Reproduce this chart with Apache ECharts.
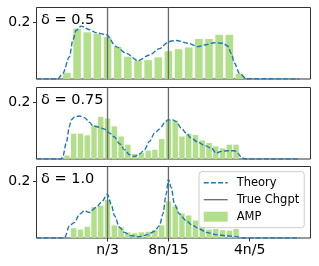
<!DOCTYPE html>
<html><head><meta charset="utf-8">
<script src="https://cdn.jsdelivr.net/npm/echarts@6/dist/echarts.min.js"></script>
<style>html,body{margin:0;padding:0;background:#fff}#c{width:319px;height:266px}</style>
</head><body><div id="c"></div><script>
// ---- data ----
const deltaLabels = ['δ = 0.5', 'δ = 0.75', 'δ = 1.0'];
const xTickPos = [1/3, 8/15, 4/5];
const xTickLabels = ['n/3', '8n/15', '4n/5'];
const yTickPos = [0.2];
const chgpts = [1/3, 8/15];

// AMP histograms: bin width (fraction of n), first bin index, heights
const amp1BinsPerN = 30, amp1Start = 6;
const amp1 = [0.022, 0.179, 0.166, 0.160, 0.149, 0.114, 0.079, 0.065, 0.067, 0.077, 0.099, 0.106, 0.112, 0.142, 0.142, 0.157, 0.157, 0.019];
const amp2BinsPerN = 45, amp2Start = 9;
const amp2 = [0.012, 0.090, 0.090, 0.084, 0.119, 0.150, 0.144, 0.116, 0.080, 0.051, 0.018, 0.021, 0.030, 0.033, 0.071, 0.139, 0.136, 0.080, 0.090, 0.085, 0.066, 0.057, 0.045, 0.038, 0.051, 0.051];
const amp3BinsPerN = 45, amp3Start = 10;
const amp3 = [0.035, 0.030, 0.040, 0.110, 0.115, 0.135, 0.045, 0.038, 0.020, 0.017, 0.020, 0.022, 0.028, 0.045, 0.130, 0.112, 0.087, 0.080, 0.062, 0.045, 0.030, 0.032, 0.028, 0.026, 0.032];

// Theory curves [t/n, density]
const theory1 = [[0.1,0],[0.17,0],[0.1863,0.020],[0.2083,0.079],[0.2193,0.138],[0.2303,0.173],[0.2467,0.188],[0.274,0.175],[0.296,0.164],[0.329,0.158],[0.3617,0.115],[0.3947,0.091],[0.4327,0.065],[0.4713,0.085],[0.504,0.108],[0.5313,0.130],[0.5423,0.135],[0.559,0.137],[0.597,0.127],[0.63,0.115],[0.6517,0.121],[0.6847,0.129],[0.712,0.127],[0.7283,0.117],[0.7397,0.091],[0.7503,0.056],[0.7667,0.020],[0.7887,0.001],[0.963,0]];
const theory2 = [[0.1,0],[0.181,0],[0.1865,0.009],[0.1976,0.057],[0.2084,0.116],[0.2139,0.139],[0.2248,0.149],[0.2413,0.153],[0.2577,0.147],[0.2741,0.130],[0.2851,0.118],[0.307,0.113],[0.3234,0.106],[0.3398,0.092],[0.3562,0.078],[0.3727,0.054],[0.3891,0.033],[0.4055,0.015],[0.422,0.009],[0.4384,0.018],[0.4548,0.033],[0.4712,0.0625],[0.4876,0.092],[0.5041,0.106],[0.5205,0.128],[0.5314,0.139],[0.5478,0.139],[0.5589,0.133],[0.5753,0.110],[0.5918,0.092],[0.6082,0.074],[0.630,0.060],[0.652,0.048],[0.674,0.039],[0.690,0.021],[0.7068,0.027],[0.7285,0.0295],[0.750,0.0295],[0.761,0.021],[0.7745,0.0035],[0.789,0],[0.964,0]];
const theory3 = [[0.1,0],[0.192,0],[0.2084,0.044],[0.2248,0.055],[0.2413,0.085],[0.2577,0.097],[0.2741,0.091],[0.2961,0.109],[0.3125,0.126],[0.3333,0.156],[0.3454,0.12],[0.3562,0.079],[0.3727,0.038],[0.3891,0.020],[0.4111,0.008],[0.4384,0.005],[0.4657,0.012],[0.4876,0.024],[0.5041,0.044],[0.515,0.085],[0.526,0.156],[0.5333,0.209],[0.5425,0.179],[0.5533,0.120],[0.5698,0.085],[0.5918,0.061],[0.6135,0.044],[0.6355,0.032],[0.6575,0.020],[0.6903,0.012],[0.7232,0.008],[0.756,0.005],[0.778,0],[0.964,0]];

// ---- chart ----
const FONT = 'DejaVu Sans';
const YMAX = 0.254;
const panels = [
  {amp: amp1, per: amp1BinsPerN, start: amp1Start, theory: theory1, barW: 7.6},
  {amp: amp2, per: amp2BinsPerN, start: amp2Start, theory: theory2, barW: 5.4},
  {amp: amp3, per: amp3BinsPerN, start: amp3Start, theory: theory3, barW: 5.4}
];
const tops = [7.5, 87.5, 166.5];
const grid = tops.map(t => ({left: 36.5, top: t, width: 274, height: 71.5, show: true,
  borderColor: '#333', borderWidth: 1, backgroundColor: 'transparent'}));
const xAxis = panels.map((p, i) => ({
  type: 'value', gridIndex: i, min: 0.1, max: 1.0,
  axisLine: {show: false}, splitLine: {show: false},
  axisTick: {show: i === 2, customValues: xTickPos, length: 3.5, lineStyle: {color: '#333'}},
  axisLabel: {show: i === 2, customValues: xTickPos, margin: 5, fontSize: 14, fontFamily: FONT, color: '#000',
    formatter: v => { let b = 0; xTickPos.forEach((t, k) => { if (Math.abs(t - v) < Math.abs(xTickPos[b] - v)) b = k; }); return xTickLabels[b]; }}
}));
const yAxis = panels.map((p, i) => ({
  type: 'value', gridIndex: i, min: 0, max: YMAX,
  axisLine: {show: false}, splitLine: {show: false},
  axisTick: {show: true, customValues: yTickPos, length: 3.5, lineStyle: {color: '#333'}},
  axisLabel: {customValues: yTickPos, margin: 6, fontSize: 14, fontFamily: FONT, color: '#000',
    formatter: v => v.toFixed(1)}
}));
const series = [];
panels.forEach((p, i) => {
  series.push({
    name: 'AMP', type: 'bar', xAxisIndex: i, yAxisIndex: i, barWidth: p.barW, z: 1,
    itemStyle: {color: '#b2df8a'},
    data: p.amp.map((v, k) => [(p.start + k) / p.per, v])
  });
  chgpts.forEach(c => series.push({
    name: 'True Chgpt', type: 'line', xAxisIndex: i, yAxisIndex: i, z: 2, symbol: 'none',
    lineStyle: {color: '#6a6a6a', width: 1.3}, itemStyle: {color: '#6a6a6a'},
    data: [[c, 0], [c, YMAX]]
  }));
  series.push({
    name: 'Theory', type: 'line', xAxisIndex: i, yAxisIndex: i, z: 3, symbol: 'none',
    smooth: 0.3, smoothMonotone: 'x',
    lineStyle: {color: '#1f77b4', width: 1.4, type: [5, 2.2]}, itemStyle: {color: '#1f77b4'},
    data: p.theory
  });
});
const title = deltaLabels.map((t, i) => ({text: t, left: 41, top: tops[i] + 5, padding: 0,
  textStyle: {fontSize: 14.5, fontWeight: 'normal', fontFamily: FONT, color: '#000', lineHeight: 16}}));

const hiddenSymbol = {color: 'transparent', borderColor: 'transparent', borderWidth: 0, opacity: 0};
const chart = echarts.init(document.getElementById('c'), null, {renderer: 'canvas'});
chart.setOption({
  animation: false,
  title, grid, xAxis, yAxis, series,
  legend: {
    data: [
      {name: 'Theory', itemStyle: hiddenSymbol, lineStyle: {type: [5, 2.2], width: 1.4, color: '#1f77b4'}},
      {name: 'True Chgpt', itemStyle: hiddenSymbol, lineStyle: {width: 1.3, color: '#6a6a6a'}},
      {name: 'AMP', icon: 'rect'}
    ],
    orient: 'vertical', left: 199, top: 171.7, itemWidth: 24, itemHeight: 10, itemGap: 3,
    padding: [4, 5, 4, 4], selectedMode: false,
    backgroundColor: 'rgba(255,255,255,0.85)', borderColor: '#cccccc', borderWidth: 1, borderRadius: 3,
    textStyle: {fontSize: 11.5, fontFamily: FONT, color: '#000', lineHeight: 14, padding: [0, 0, 0, 4]}
  }
});
</script></body></html>
